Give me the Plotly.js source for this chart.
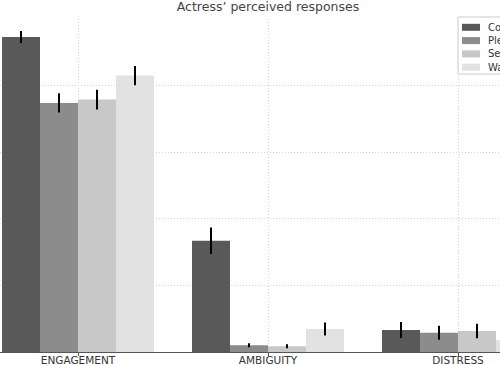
<!DOCTYPE html>
<html>
<head>
<meta charset="utf-8">
<script src="https://cdn.plot.ly/plotly-3.0.1.min.js"></script>
<style>
html, body { margin: 0; padding: 0; overflow: hidden; width: 500px; height: 365px; background: #fff; }
#chart { position: absolute; left: 0; top: 0; width: 600px; height: 365px; }
</style>
</head>
<body>
<div id="chart"></div>
<script>
const categories = ["ENGAGEMENT", "AMBIGUITY", "DISTRESS"];
const seriesNames = ["Control", "Pleasure", "Sexual", "Warmth"];
const controlValues = [4.73, 1.67, 0.33];
const controlErrors = [0.09, 0.20, 0.12];
const pleasureValues = [3.74, 0.10, 0.29];
const pleasureErrors = [0.145, 0.03, 0.105];
const sexualValues = [3.79, 0.085, 0.315];
const sexualErrors = [0.147, 0.03, 0.11];
const warmthValues = [4.15, 0.345, 0.18];
const warmthErrors = [0.145, 0.098, 0.10];
const colors = ["#595959", "#8c8c8c", "#c8c8c8", "#e2e2e2"];

const values = [controlValues, pleasureValues, sexualValues, warmthValues];
const errors = [controlErrors, pleasureErrors, sexualErrors, warmthErrors];

const W = 600, H = 365, T = 19, B = 13;
const plotH = H - T - B;
const px2x = px => px / W;                 // paper x from pixel
const px2y = py => (H - B - py) / plotH;   // paper y from pixel

const traces = seriesNames.map((name, i) => ({
  type: "bar",
  name: name,
  x: categories,
  y: values[i],
  showlegend: false,
  marker: { color: colors[i], line: { width: 0 } },
  error_y: { type: "data", array: errors[i], visible: true, color: "#000", thickness: 2, width: 0 }
}));

// manual legend (compact spacing like the reference)
const shapes = [{
  type: "rect", xref: "paper", yref: "paper",
  x0: px2x(458), x1: px2x(560), y0: px2y(74), y1: px2y(17),
  fillcolor: "rgba(255,255,255,0.9)", line: { color: "#cccccc", width: 1 }, layer: "above"
}];
const annotations = [];
seriesNames.forEach((name, i) => {
  const cy = 27.3 + i * 13.3;
  shapes.push({
    type: "rect", xref: "paper", yref: "paper",
    x0: px2x(462), x1: px2x(480), y0: px2y(cy + 3.5), y1: px2y(cy - 3.5),
    fillcolor: colors[i], line: { width: 0 }, layer: "above"
  });
  annotations.push({
    xref: "paper", yref: "paper", x: px2x(486), y: px2y(cy),
    xanchor: "left", yanchor: "middle", showarrow: false,
    text: name, font: { family: "DejaVu Sans", size: 10, color: "#333" }
  });
});

const layout = {
  width: W,
  height: H,
  margin: { l: 0, r: 0, t: T, b: B },
  paper_bgcolor: "#fff",
  plot_bgcolor: "#fff",
  font: { family: "DejaVu Sans", color: "#333" },
  title: {
    text: "Actress\u2019 perceived responses",
    font: { family: "DejaVu Sans", size: 12.5, color: "#444" },
    x: 268 / W, xref: "paper", xanchor: "center",
    y: 1 - 7 / H, yref: "container", yanchor: "middle"
  },
  barmode: "group",
  bargap: 0.2,
  bargroupgap: 0,
  showlegend: false,
  shapes: shapes,
  annotations: annotations,
  xaxis: {
    type: "category",
    range: [-78 / 190, (W - 78) / 190],
    showgrid: true, gridcolor: "#d4d4d4", griddash: "1px,2px", gridwidth: 1,
    showline: true, linecolor: "#555", linewidth: 1,
    ticks: "outside", ticklen: 3, tickcolor: "#555",
    ticklabelstandoff: -5,
    tickfont: { family: "DejaVu Sans", size: 10.5, color: "#333" },
    zeroline: false
  },
  yaxis: {
    range: [0, 5], dtick: 1,
    showgrid: true, gridcolor: "#d4d4d4", griddash: "1px,2px", gridwidth: 1,
    showticklabels: false, zeroline: false, showline: false, ticks: ""
  }
};

Plotly.newPlot("chart", traces, layout, { displayModeBar: false, staticPlot: true });
</script>
</body>
</html>
